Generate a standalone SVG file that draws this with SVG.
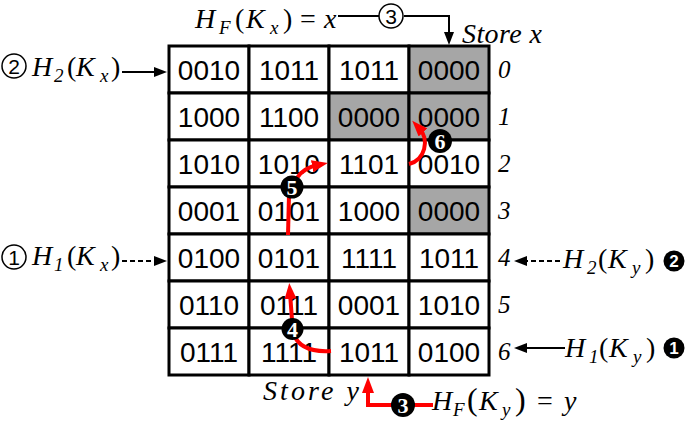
<svg xmlns="http://www.w3.org/2000/svg" width="685" height="424" viewBox="0 0 685 424">
<style>
.cell rect{fill:#fff;stroke:#000;stroke-width:3}
.cell.g rect{fill:#a6a6a6}
.cell text{font-family:"Liberation Sans",Arial,sans-serif;font-size:28px;text-anchor:middle;fill:#000}
.row{font-family:"Liberation Serif","Times New Roman",serif;font-style:italic;font-size:25px}
.m{font-family:"Liberation Serif","Times New Roman",serif;font-style:italic;font-size:28px}
.u{font-style:normal}
.s{font-size:19px}
.red{stroke:#f00;stroke-width:4;fill:none}
.blk{stroke:#000;stroke-width:2;fill:none}
.dash{stroke-dasharray:5 3}
.bc{fill:#000}
.bd{fill:#fff;font-family:"Liberation Serif","Times New Roman",serif;font-size:22px;font-weight:bold;text-anchor:middle}
.bs{fill:#fff;font-family:"Liberation Sans",Arial,sans-serif;font-size:17px;font-weight:bold;text-anchor:middle}
.hc{fill:none;stroke:#000;stroke-width:1.5}
.hd{font-family:"Liberation Sans",Arial,sans-serif;font-size:21px;text-anchor:middle}
</style>
<defs>
<marker id="ar" viewBox="0 0 16 12" refX="6" refY="6" markerWidth="16" markerHeight="12" markerUnits="userSpaceOnUse" orient="auto"><path d="M0,0 L16,6 L0,12 z" fill="#f00"/></marker>
<marker id="ab" viewBox="0 0 13 10" refX="3" refY="5" markerWidth="13" markerHeight="10" markerUnits="userSpaceOnUse" orient="auto"><path d="M0,0 L13,5 L0,10 z" fill="#000"/></marker>
</defs>

<g id="grid">
<g id="c00" class="cell"><rect x="169" y="46" width="80" height="47"/><text x="209" y="80">0010</text></g>
<g id="c01" class="cell"><rect x="249" y="46" width="80" height="47"/><text x="289" y="80">1011</text></g>
<g id="c02" class="cell"><rect x="329" y="46" width="80" height="47"/><text x="369" y="80">1011</text></g>
<g id="c03" class="cell g"><rect x="409" y="46" width="80" height="47"/><text x="449" y="80">0000</text></g>
<g id="c10" class="cell"><rect x="169" y="93" width="80" height="47"/><text x="209" y="127">1000</text></g>
<g id="c11" class="cell"><rect x="249" y="93" width="80" height="47"/><text x="289" y="127">1100</text></g>
<g id="c12" class="cell g"><rect x="329" y="93" width="80" height="47"/><text x="369" y="127">0000</text></g>
<g id="c13" class="cell g"><rect x="409" y="93" width="80" height="47"/><text x="449" y="127">0000</text></g>
<g id="c20" class="cell"><rect x="169" y="140" width="80" height="47"/><text x="209" y="174">1010</text></g>
<g id="c21" class="cell"><rect x="249" y="140" width="80" height="47"/><text x="289" y="174">1010</text></g>
<g id="c22" class="cell"><rect x="329" y="140" width="80" height="47"/><text x="369" y="174">1101</text></g>
<g id="c23" class="cell"><rect x="409" y="140" width="80" height="47"/><text x="449" y="174">0010</text></g>
<g id="c30" class="cell"><rect x="169" y="187" width="80" height="47"/><text x="209" y="221">0001</text></g>
<g id="c31" class="cell"><rect x="249" y="187" width="80" height="47"/><text x="289" y="221">0101</text></g>
<g id="c32" class="cell"><rect x="329" y="187" width="80" height="47"/><text x="369" y="221">1000</text></g>
<g id="c33" class="cell g"><rect x="409" y="187" width="80" height="47"/><text x="449" y="221">0000</text></g>
<g id="c40" class="cell"><rect x="169" y="234" width="80" height="47"/><text x="209" y="268">0100</text></g>
<g id="c41" class="cell"><rect x="249" y="234" width="80" height="47"/><text x="289" y="268">0101</text></g>
<g id="c42" class="cell"><rect x="329" y="234" width="80" height="47"/><text x="369" y="268">1111</text></g>
<g id="c43" class="cell"><rect x="409" y="234" width="80" height="47"/><text x="449" y="268">1011</text></g>
<g id="c50" class="cell"><rect x="169" y="281" width="80" height="47"/><text x="209" y="315">0110</text></g>
<g id="c51" class="cell"><rect x="249" y="281" width="80" height="47"/><text x="289" y="315">0111</text></g>
<g id="c52" class="cell"><rect x="329" y="281" width="80" height="47"/><text x="369" y="315">0001</text></g>
<g id="c53" class="cell"><rect x="409" y="281" width="80" height="47"/><text x="449" y="315">1010</text></g>
<g id="c60" class="cell"><rect x="169" y="328" width="80" height="47"/><text x="209" y="362">0111</text></g>
<g id="c61" class="cell"><rect x="249" y="328" width="80" height="47"/><text x="289" y="362">1111</text></g>
<g id="c62" class="cell"><rect x="329" y="328" width="80" height="47"/><text x="369" y="362">1011</text></g>
<g id="c63" class="cell"><rect x="409" y="328" width="80" height="47"/><text x="449" y="362">0100</text></g>
</g>

<g id="rowlabels" class="row">
<text x="498" y="78">0</text>
<text x="498" y="125">1</text>
<text x="498" y="172">2</text>
<text x="498" y="219">3</text>
<text x="498" y="266">4</text>
<text x="498" y="313">5</text>
<text x="498" y="360">6</text>
</g>

<g id="connectors">
<path class="blk" d="M338,16 L379,16 M404,16 L449,16 L449,35" marker-end="url(#ab)"/>
<path class="blk" d="M122,72 L157,72" marker-end="url(#ab)"/>
<path class="blk dash" d="M122,261 L157,261" marker-end="url(#ab)"/>
<path class="blk dash" d="M560,261 L524,261" marker-end="url(#ab)"/>
<path class="blk" d="M565,348 L524,348" marker-end="url(#ab)"/>
<path class="red" d="M331,351 Q300,353 293,333 L290,293" marker-end="url(#ar)"/>
<path class="red" d="M288,235 L289,195"/>
<path class="red" d="M297,178 Q303,168 318,165" marker-end="url(#ar)"/>
<path class="red" d="M409,164 C425,160 430,140 419,128" marker-end="url(#ar)"/>
<path class="red" d="M433,405 L368,405 L368,387" marker-end="url(#ar)"/>
</g>

<g id="step3x">
<circle class="hc" cx="391" cy="16" r="12"/><text class="hd" x="391" y="23.5">3</text>
</g>
<g id="step2x">
<circle class="hc" cx="14" cy="66" r="12"/><text class="hd" x="14" y="73.5">2</text>
</g>
<g id="step1x">
<circle class="hc" cx="14" cy="257" r="12"/><text class="hd" x="14" y="264.5">1</text>
</g>
<g id="step4"><circle class="bc" cx="292.5" cy="329" r="11"/><text class="bd" x="292.5" y="337">4</text></g>
<g id="step5"><circle class="bc" cx="292" cy="187" r="11.5"/><text class="bd" x="292" y="195">5</text></g>
<g id="step6"><circle class="bc" cx="440" cy="141" r="12"/><text class="bd" x="440" y="149">6</text></g>
<g id="step3y"><circle class="bc" cx="403" cy="405" r="12"/><text class="bd" x="403" y="413">3</text></g>
<g id="step2y"><circle class="bc" cx="674" cy="261" r="10.5"/><text class="bs" x="674" y="267">2</text></g>
<g id="step1y"><circle class="bc" cx="674" cy="348" r="10.5"/><text class="bs" x="674" y="354">1</text></g>

<g id="labels">
<text class="m" y="28"><tspan x="195">H</tspan><tspan class="s" x="219" dy="6">F</tspan><tspan class="u" x="235" dy="-6">(</tspan><tspan x="246">K</tspan><tspan class="s" x="270" dy="6">x</tspan><tspan class="u" x="283" dy="-6">)</tspan><tspan class="u" x="300">=</tspan><tspan x="324">x</tspan></text>
<text class="m" x="462" y="43" textLength="80">Store x</text>
<text class="m" y="76"><tspan x="32">H</tspan><tspan class="s" x="54" dy="6">2</tspan><tspan class="u" x="67" dy="-6">(</tspan><tspan x="76">K</tspan><tspan class="s" x="100" dy="6">x</tspan><tspan class="u" x="111" dy="-6">)</tspan></text>
<text class="m" y="265"><tspan x="32">H</tspan><tspan class="s" x="54" dy="6">1</tspan><tspan class="u" x="67" dy="-6">(</tspan><tspan x="76">K</tspan><tspan class="s" x="100" dy="6">x</tspan><tspan class="u" x="111" dy="-6">)</tspan></text>
<text class="m" y="268"><tspan x="563">H</tspan><tspan class="s" x="587" dy="6">2</tspan><tspan class="u" x="598" dy="-6">(</tspan><tspan x="608">K</tspan><tspan class="s" x="632" dy="6">y</tspan><tspan class="u" x="645" dy="-6">)</tspan></text>
<text class="m" y="357"><tspan x="565">H</tspan><tspan class="s" x="589" dy="6">1</tspan><tspan class="u" x="599" dy="-6">(</tspan><tspan x="609">K</tspan><tspan class="s" x="633" dy="6">y</tspan><tspan class="u" x="646" dy="-6">)</tspan></text>
<text class="m" x="263" y="400" textLength="96">Store y</text>
<text class="m" y="410"><tspan x="432">H</tspan><tspan class="s" x="453" dy="6">F</tspan><tspan class="u" x="467" dy="-6" font-size="32">(</tspan><tspan x="479">K</tspan><tspan class="s" x="502" dy="6">y</tspan><tspan class="u" x="515" dy="-6" font-size="32">)</tspan><tspan class="u" x="537">=</tspan><tspan x="564">y</tspan></text>
</g>
</svg>
